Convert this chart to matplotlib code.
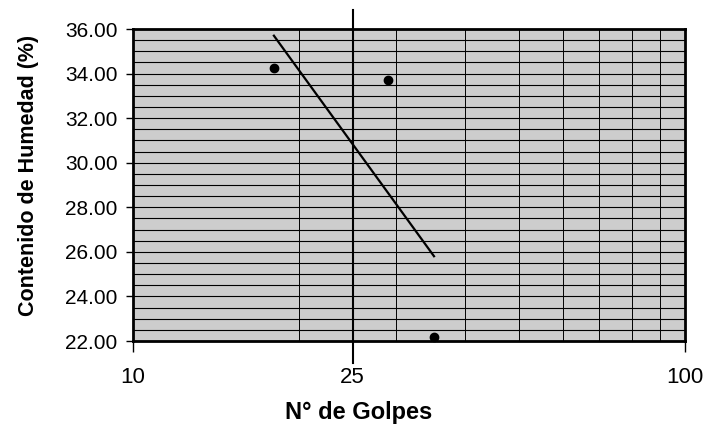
import numpy as np
import matplotlib
matplotlib.use("Agg")
import matplotlib.pyplot as plt
from matplotlib.ticker import FixedLocator, MultipleLocator, NullFormatter

plt.rcParams['font.family'] = ['Liberation Sans', 'DejaVu Sans']

# datos de ensayo (limite liquido)
golpes = [18.0, 29.0, 35.1]
humedad = [34.25, 33.71, 22.18]
xticks = [10, 25, 100]
xticklabels = ["10", "25", "100"]
yticks = [22, 24, 26, 28, 30, 32, 34, 36]

# recta de ajuste en escala log
b, a = np.polyfit(np.log10(golpes), humedad, 1)
xfit = np.array([min(golpes), max(golpes)])
yfit = a + b * np.log10(xfit)

fig = plt.figure(figsize=(7.1, 4.25), dpi=100)
ax = fig.add_axes([0.1873, 0.1976, 0.7775, 0.7341])
ax.set_facecolor("#cdcdcd")

ax.set_xscale("log")
ax.set_xlim(10, 100)
ax.set_ylim(22, 36)

ax.xaxis.set_major_locator(FixedLocator([10, 100]))
ax.xaxis.set_minor_locator(FixedLocator([20, 30, 40, 50, 60, 70, 80, 90]))
ax.xaxis.set_major_formatter(NullFormatter())
ax.xaxis.set_minor_formatter(NullFormatter())
ax.yaxis.set_major_locator(FixedLocator(yticks))
ax.yaxis.set_minor_locator(MultipleLocator(0.5))
ax.set_yticklabels(["%.2f" % v for v in yticks], fontsize=15)

ax.grid(which="both", axis="y", color="black", linewidth=0.8)
ax.grid(which="minor", axis="x", color="black", linewidth=0.7)
ax.set_axisbelow(True)

ax.tick_params(axis="y", which="major", direction="out", length=5, width=1, pad=6)
ax.tick_params(axis="y", which="minor", length=0)
ax.tick_params(axis="x", which="major", direction="out", length=8, width=1)
ax.tick_params(axis="x", which="minor", length=0)
for s in ax.spines.values():
    s.set_linewidth(2)

for xv, lab in zip(xticks, xticklabels):
    ax.text(xv, -0.118, lab, transform=ax.get_xaxis_transform(),
            ha="center", va="center", fontsize=16)

# linea vertical de 25 golpes
ax.plot([25, 25], [-0.07, 1.06], color="black", linewidth=1.5,
        transform=ax.get_xaxis_transform(), clip_on=False)

ax.plot(xfit, yfit, color="black", linewidth=1.6)
ax.plot(golpes, humedad, "o", color="black", markersize=6, clip_on=False)

ax.set_xlabel("N° de Golpes", fontsize=17, fontweight="bold")
ax.xaxis.label.set_va("center")
ax.xaxis.set_label_coords(0.408, -0.228)
ax.set_ylabel("Contenido de Humedad (%)", fontsize=15.5, fontweight="bold")
ax.yaxis.label.set_va("center")
ax.yaxis.set_label_coords(-0.189, 0.532)

fig.savefig("out.png", dpi=100)
